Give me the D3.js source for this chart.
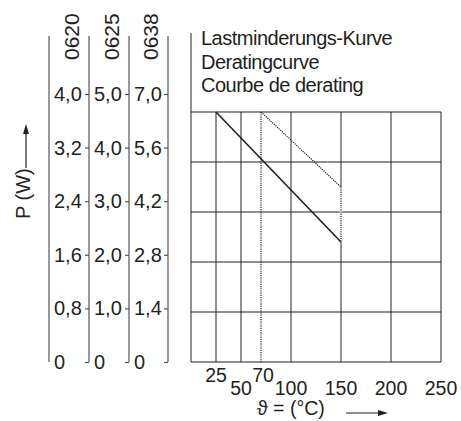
<!DOCTYPE html>
<html>
<head>
<meta charset="utf-8">
<script src="https://cdn.jsdelivr.net/npm/d3@7/dist/d3.min.js"></script>
<style>
  html, body { margin: 0; padding: 0; background: #fff; }
  svg { display: block; }
  text { font-family: "Liberation Sans", Arial, sans-serif; fill: #231f20; }
</style>
</head>
<body>
<svg id="chart" width="461" height="421"></svg>
<script>
// ---- data ----
const titleLines = ["Lastminderungs-Kurve", "Deratingcurve", "Courbe de derating"];
const resistorTypes = ["0620", "0625", "0638"];
const power0620 = [0, 0.8, 1.6, 2.4, 3.2, 4.0];
const power0625 = [0, 1.0, 2.0, 3.0, 4.0, 5.0];
const power0638 = [0, 1.4, 2.8, 4.2, 5.6, 7.0];
const tempTicks = [25, 50, 70, 100, 150, 200, 250];
const tempRaised = [25, 70];
const gridTemps = [0, 25, 50, 100, 150, 200, 250];
const gridPower = [0, 0.8, 1.6, 2.4, 3.2, 4.0];
// derating curves, in 0620 power units (W)
const curveSolid = [{t: 25, p: 4.0}, {t: 150, p: 1.92}];
const curveDotted = [{t: 70, p: 4.0}, {t: 150, p: 2.8}, {t: 150, p: 1.92}];
const line70 = [{t: 70, p: 0}, {t: 70, p: 4.0}];
const yLabel = "P (W)";
const xLabel = "\u03D1 = (°C)";

const svg = d3.select("#chart");
const ink = "#231f20";
const fmt = v => v === 0 ? "0" : d3.format(".1f")(v).replace(".", ",");

// ---- scales ----
const x = d3.scaleLinear().domain([0, 250]).range([191, 441]);
const yGrid = d3.scaleLinear().domain([0, 4.0]).range([362, 112]);

// ---- grid ----
const g = svg.append("g");
g.selectAll("line.v").data(gridTemps).join("line")
  .attr("x1", d => x(d)).attr("x2", d => x(d))
  .attr("y1", d => d === 0 ? 33 : yGrid(4.0)).attr("y2", yGrid(0))
  .attr("stroke", "#4a4647").attr("stroke-width", 1.2);
g.selectAll("line.h").data(gridPower).join("line")
  .attr("x1", x(0)).attr("x2", x(250))
  .attr("y1", d => yGrid(d)).attr("y2", d => yGrid(d))
  .attr("stroke", ink).attr("stroke-width", 1.2);

// ---- curves ----
const line = d3.line().x(d => x(d.t)).y(d => yGrid(d.p));
// hide grid under dotted vertical segment at 150
g.append("path").datum(curveDotted.slice(1)).attr("d", line)
  .attr("stroke", "#fff").attr("stroke-width", 2.5).attr("fill", "none");
g.append("path").datum(line70).attr("d", line)
  .attr("stroke", "#222").attr("stroke-width", 1.2).attr("stroke-dasharray", "1.2,1").attr("fill", "none");
g.append("path").datum(curveDotted).attr("d", line)
  .attr("stroke", "#222").attr("stroke-width", 1.2).attr("stroke-dasharray", "1.2,1").attr("fill", "none");
g.append("path").datum(curveSolid).attr("d", line)
  .attr("stroke", ink).attr("stroke-width", 1.6).attr("fill", "none");

// ---- title ----
svg.append("g").selectAll("text").data(titleLines).join("text")
  .attr("x", 201).attr("y", (d, i) => 45 + i * 23.5)
  .attr("font-size", 20).attr("letter-spacing", -0.5).text(d => d);

// ---- x tick labels ----
svg.append("g").selectAll("text").data(tempTicks).join("text")
  .attr("x", d => x(d) + (d === 70 ? 2 : 0))
  .attr("y", d => tempRaised.includes(d) ? 382 : 395)
  .attr("text-anchor", "middle").attr("font-size", 19.5)
  .text(d => d);

// x axis title + arrow
svg.append("text").attr("x", 257).attr("y", 415).attr("font-size", 19.5).text(xLabel);
svg.append("line").attr("x1", 346).attr("x2", 380).attr("y1", 413).attr("y2", 413)
  .attr("stroke", ink).attr("stroke-width", 1.2);
svg.append("path").attr("d", "M388,413 L378,410 L378,416 Z").attr("fill", ink);

// ---- left power axes ----
const yAxis = d3.scaleLinear().domain([0, 4.0]).range([362, 94]);
const axisLines = [49, 89, 129, 168];
const series = [power0620, power0625, power0638];
svg.append("g").selectAll("line").data(axisLines).join("line")
  .attr("x1", d => d).attr("x2", d => d).attr("y1", 36).attr("y2", 362)
  .attr("stroke", "#555").attr("stroke-width", 1.2);

series.forEach((vals, i) => {
  const maxV = vals[vals.length - 1];
  const sc = d3.scaleLinear().domain([0, maxV]).range([yAxis(0), yAxis(4.0)]);
  const lineX = axisLines[i + 1];
  const ax = svg.append("g").attr("transform", `translate(${lineX},0)`)
    .call(d3.axisLeft(sc).tickValues(vals).tickSize(4).tickFormat(fmt));
  ax.select(".domain").remove();
  ax.selectAll(".tick line").attr("stroke", "#555").attr("stroke-width", 1.2);
  ax.selectAll(".tick text")
    .attr("x", axisLines[i] - lineX + 5).attr("text-anchor", "start")
    .attr("font-size", 20).attr("fill", ink)
    .attr("font-family", "'Liberation Sans', Arial, sans-serif");
  // column header
  svg.append("text")
    .attr("transform", `translate(${lineX - 10},60) rotate(-90)`)
    .attr("font-size", 21).text(resistorTypes[i]);
});

// y axis title + arrow
svg.append("text").attr("transform", "translate(30,219) rotate(-90)")
  .attr("font-size", 20).text(yLabel);
svg.append("line").attr("x1", 26).attr("x2", 26).attr("y1", 168).attr("y2", 132)
  .attr("stroke", ink).attr("stroke-width", 1.2);
svg.append("path").attr("d", "M26,124 L23,134 L29,134 Z").attr("fill", ink);
</script>
</body>
</html>
